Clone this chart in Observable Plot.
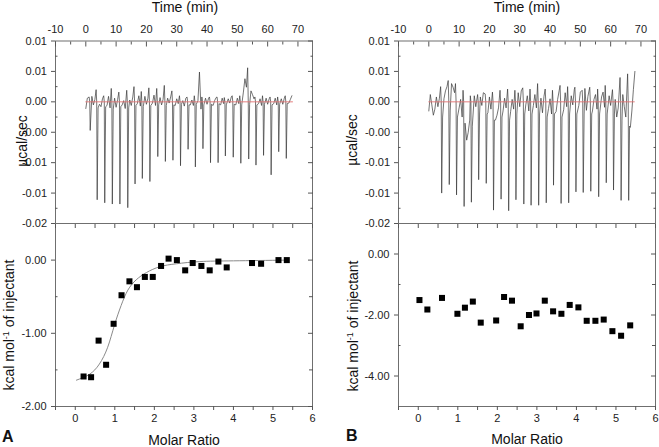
<!DOCTYPE html>
<html><head><meta charset="utf-8">
<script src="https://cdn.jsdelivr.net/npm/d3@7"></script>
<script src="https://cdn.jsdelivr.net/npm/@observablehq/plot@0.6"></script>
<style>
html,body{margin:0;padding:0;background:#fff;}
#wrap{position:relative;width:659px;height:447px;overflow:hidden;background:#fff;font-family:"Liberation Sans",Arial,sans-serif;}
#wrap > div{position:absolute;}
</style></head><body><div id="wrap"></div>
<script>
// ---------- axis ticks / labels ----------
const timeTicks = [-10, 0, 10, 20, 30, 40, 50, 60, 70];
const timeMinor = [-5, 5, 15, 25, 35, 45, 55, 65];
// power in units of 0.001 µcal/sec
const powerTicks = [10, 5, 0, -5, -10, -15, -20];
const powerLabels = ["0.01", "0.01", "0.00", "-0.00", "-0.01", "-0.01", "-0.02"];
const powerMinor = [7.5, 2.5, -2.5, -7.5, -12.5, -17.5];
const molarTicks = [0, 1, 2, 3, 4, 5, 6];
const molarMinor = [-0.5, 0.5, 1.5, 2.5, 3.5, 4.5, 5.5];
const heatTicksA = [0, -1, -2];
const heatLabelsA = ["0.00", "-1.00", "-2.00"];
const heatMinorA = [-0.5, -1.5];
const heatTicksB = [0, -2, -4];
const heatLabelsB = ["0.00", "-2.00", "-4.00"];
const heatMinorB = [-1, -3];

// ---------- panel A thermogram ----------
const injTimeA = [1.3, 3.6, 6.1, 8.6, 11.1, 13.7, 16.1, 18.5, 21.0, 23.6, 26.1, 28.6, 31.1, 33.6, 36.0, 38.5, 41.0, 43.5, 45.9, 48.5, 51.0, 53.6, 56.0, 58.5, 61.0, 63.5, 66.0];
const injPeakA = [-4.7, -16.1, -16.6, -16.8, -16.8, -17.4, -13.5, -12.6, -13.1, -9.0, -9.8, -9.6, -10.5, -7.8, -10.7, -7.7, -10.0, -10.0, -8.9, -9.1, -10.1, -9.4, -10.4, -8.8, -12.0, -8.2, -9.3];
const injUpA = [0.8, 2.0, 1.0, 2.2, 1.6, 1.9, 2.5, 1.7, 2.3, 2.2, 2.7, 1.8, 1.0, 0.8, 1.0, 0.8, 0.8, 0.8, 0.7, 1.0, 1.0, 5.6, 0.8, 1.0, 0.8, 0.8, 1.0];
const injRecA = [-1.5, -1.0, -0.8, -1.2, -0.8, -1.0, -0.6, -0.8, -0.6, -0.5, -0.6, -0.5, -0.4, -0.5, -0.4, -0.5, -0.4, -0.3, -0.5, -0.4, -0.5, -0.4, -0.5, -0.4, -0.5, -0.4, -0.3];
// baseline signal sampled every 0.5 min from t = 0
const noiseA = [
  -1.1, 0.6, -0.3, -1.4, 0.9, -0.5, 0.4, -0.9, 1.0, -0.4,
  -0.8, 0.5, -1.3, 0.2, -0.6, 0.9, -1.0, 0.3, -0.7, 0.6,
  -0.9, 0.4, -1.2, 0.7, -0.5, 0.2, -1.1, 0.5, -0.8, 0.3,
  -0.6, 0.8, -0.9, 0.4, -0.3, 1.0, -0.7, 0.2, -0.5, 0.9,
  -0.4, 0.6, -1.0, 0.8, -0.2, 1.1, -0.6, 0.5, -0.3, 0.7,
  -0.5, 0.4, 1.0, -0.4, 0.6, -0.2, 0.8, -0.5, 0.3, -0.6,
  0.5, -0.3, 0.7, -0.4, 0.2, -0.7, 0.6, -0.2, 0.4, -0.5,
  0.3, -0.6, 0.5, -0.9, 0.2, 4.9, -1.2, 0.3, -0.4, 0.6,
  -0.4, 0.6, -0.3, 0.5, -0.6, 0.2, 0.7, -0.4, 0.3, -0.5,
  0.6, -0.3, 0.4, -0.6, 0.5, -0.2, 0.8, -0.4, 0.3, -0.5,
  0.6, -0.3, 0.8, 1.2, 1.6, 3.8, 2.4, 1.5, 2.6, 1.8,
  1.2, 0.5, -0.3, 0.6, -0.3, 0.5, -0.6, 0.4, -0.2, 0.6,
  -0.4, 0.5, -0.7, 0.3, -0.3, 0.6, -0.5, 0.4, -0.2, 0.5,
  -0.4, 0.6, -0.3, 0.5, -0.2, 0.4, 1.0
];
const baselineSpanA = [0, 68.2];

// ---------- panel B thermogram ----------
const injTimeB = [4.1, 6.6, 9.0, 11.5, 13.9, 16.3, 18.8, 21.2, 23.7, 26.2, 28.6, 31.2, 33.6, 36.1, 38.6, 41.0, 43.5, 46.0, 48.4, 50.8, 53.3, 55.9, 58.4, 60.8, 63.3, 65.8];
const injPeakB = [-15.0, -13.6, -15.3, -17.2, -16.5, -12.8, -13.4, -17.8, -16.0, -17.9, -16.1, -16.8, -17.0, -17.0, -16.6, -13.7, -16.7, -16.6, -14.8, -14.9, -14.7, -15.6, -13.3, -14.5, -16.2, -16.2];
const injUpB = [2.5, 3.5, 3.0, 1.9, 1.0, 1.2, 1.3, 1.6, 1.9, 2.1, 1.9, 2.3, 2.1, 3.0, 2.1, 1.9, 2.7, 2.5, 2.4, 1.9, 2.4, 2.1, 2.7, 2.0, 4.0, 4.6];
const injRecB = [-2.5, -1.5, -2.5, -3.5, -4.0, -2.0, -2.0, -3.0, -2.5, -3.0, -2.0, -2.0, -2.0, -2.0, -2.5, -2.0, -2.5, -2.0, -2.0, -2.0, -2.0, -2.0, -2.0, -2.0, -3.0, -4.0];
const noiseB = [
  -1.5, 1.2, -0.5, -2.2, -1.2, 0.8, -0.8, 0.6, 0.2, -1.8,
  0.5, 1.8, 2.5, 3.5, 1.6, 3.0, 2.4, 1.5, 0.8, 1.0,
  -1.0, 0.4, -2.5, -4.0, -5.5, -6.3, -5.0, -3.0, 0.5, -1.5,
  1.0, -0.8, 1.2, -1.5, 0.8, -0.6, 1.5, -1.0, 0.6, -1.8,
  0.8, -1.2, -2.5, -1.5, -3.0, -2.2, -1.0, -2.8, -0.5, -1.5,
  0.6, -1.0, 1.2, -0.8, -1.6, 0.4, -1.2, 1.0, -0.6, 1.5,
  -0.8, 1.8, -1.2, 2.2, -0.5, 1.0, -1.5, 0.8, 2.5, -0.6,
  1.2, -1.0, 2.0, -1.4, 0.6, -1.8, 0.9, -0.7, 1.4, -1.1,
  0.5, -2.0, -0.8, 1.0, -1.6, 0.4, 1.8, -0.9, 0.7, -1.3,
  1.5, -0.8, 0.6, -1.8, 1.0, -0.5, 2.0, -1.2, 0.8, -0.6,
  1.6, -1.0, 0.5, 2.2, -1.4, 0.9, -0.7, 1.8, -1.5, 0.4,
  1.2, -1.2, 0.6, -2.0, 0.8, 1.6, -0.9, 0.5, -1.6, 1.0,
  -0.6, 1.4, -1.8, 0.4, -2.5, -1.0, 0.8, -1.5, 1.2, -0.8,
  -2.5, -3.5, -4.0, -4.2, -1.5, 2.0, 5.0
];
const baselineSpanB = [0, 67.8];
const noiseStep = 0.5;

// ---------- integrated heats ----------
const molarA = [0.21, 0.40, 0.59, 0.78, 0.97, 1.17, 1.37, 1.56, 1.76, 1.96, 2.17, 2.36, 2.57, 2.78, 2.97, 3.19, 3.40, 3.62, 3.83, 4.47, 4.70, 5.14, 5.35];
const heatA = [-1.59, -1.60, -1.10, -1.43, -0.87, -0.48, -0.29, -0.37, -0.23, -0.23, -0.08, 0.02, 0.00, -0.14, -0.04, -0.08, -0.14, -0.02, -0.10, -0.04, -0.05, 0.00, 0.00];
const fitMolarA = [0.03, 0.36, 0.61, 0.82, 0.99, 1.16, 1.33, 1.54, 1.80, 2.14, 2.56, 3.15, 4.0, 5.36];
const fitHeatA = [-1.64, -1.56, -1.42, -1.19, -0.89, -0.62, -0.41, -0.27, -0.17, -0.09, -0.05, -0.02, -0.01, 0.00];
const molarB = [0.03, 0.23, 0.60, 0.99, 1.18, 1.38, 1.58, 1.97, 2.17, 2.37, 2.59, 2.80, 2.99, 3.20, 3.41, 3.62, 3.83, 4.05, 4.26, 4.48, 4.69, 4.91, 5.13, 5.36];
const heatB = [-1.51, -1.82, -1.44, -1.96, -1.76, -1.56, -2.25, -2.18, -1.41, -1.53, -2.37, -2.00, -1.95, -1.53, -1.88, -1.96, -1.67, -1.75, -2.19, -2.19, -2.15, -2.53, -2.68, -2.34];

// ---------- build ----------
function buildTrace(noise, injT, injPeak, injUp, injRec) {
  const pts = [];
  noise.forEach((v, i) => {
    const t = i * noiseStep;
    if (!injT.some(ti => t > ti - 0.35 && t < ti + 0.7)) pts.push({t, v});
  });
  injT.forEach((ti, i) => {
    pts.push({t: ti - 0.2, v: injUp[i]}, {t: ti, v: 0}, {t: ti + 0.15, v: injPeak[i]}, {t: ti + 0.45, v: injRec[i]});
  });
  return pts.sort((a, b) => a.t - b.t);
}
const traceA = buildTrace(noiseA, injTimeA, injPeakA, injUpA, injRecA);
const traceB = buildTrace(noiseB, injTimeB, injPeakB, injUpB, injRecB);
const baseA = baselineSpanA.map(t => ({t, v: 0}));
const baseB = baselineSpanB.map(t => ({t, v: 0}));
const ptsA = molarA.map((x, i) => ({x, y: heatA[i]}));
const ptsB = molarB.map((x, i) => ({x, y: heatB[i]}));
const fitA = fitMolarA.map((x, i) => ({x, y: fitHeatA[i]}));

const FONT = "Liberation Sans, Arial, Helvetica, sans-serif";
const plotStyle = {background: "transparent", fontFamily: FONT, fontSize: "11px", color: "#222", overflow: "visible"};
const frameColor = "#6f6f6f";
const tickColor = "#555";

function ticksX(anchor, ticks, size, inward) {
  const d = inward ? (anchor === "top" ? size : -size) : 0;
  return Plot.axisX({anchor, ticks, tickSize: size, dy: d, fill: "none", stroke: tickColor, label: null});
}
function ticksY(anchor, ticks, size, inward) {
  const d = inward ? (anchor === "left" ? size : -size) : 0;
  return Plot.axisY({anchor, ticks, tickSize: size, dx: d, fill: "none", stroke: tickColor, label: null});
}
function labelsX(anchor, ticks, pad) {
  return Plot.axisX({anchor, ticks, tickSize: 0, tickPadding: pad, tickFormat: d => String(d), fill: "#222", label: null});
}
function labelsY(ticks, labels, pad) {
  const m = new Map(ticks.map((t, i) => [t, labels[i]]));
  return Plot.axisY({anchor: "left", ticks, tickSize: 0, tickPadding: pad, tickFormat: d => m.get(d), fill: "#222", label: null});
}

const timeDomain = [-10, 74.8];
const powerDomain = [-20, 10];
const molarDomain = [-0.5, 6];

function thermoPanel(trace, base, w, mL, mR) {
  return Plot.plot({
    width: w, height: 226, marginTop: 40.5, marginBottom: 3, marginLeft: mL, marginRight: mR,
    style: plotStyle,
    x: {domain: timeDomain, axis: null},
    y: {domain: powerDomain, axis: null},
    marks: [
      Plot.line(trace, {x: "t", y: "v", stroke: "#383838", strokeWidth: 0.7}),
      Plot.line(base, {x: "t", y: "v", stroke: "#e07070", strokeWidth: 0.9}),
      Plot.frame({stroke: frameColor}),
      ticksX("top", timeTicks, 5, true),
      ticksX("top", timeMinor, 3, true),
      labelsX("top", timeTicks, 8),
      ticksY("left", powerTicks, 4, false),
      ticksY("left", powerMinor, 2.5, true),
      ticksY("right", powerTicks, 5, true),
      ticksY("right", powerMinor, 2.5, true),
      labelsY(powerTicks, powerLabels, 8.5)
    ]
  });
}

function heatPanel(pts, fit, yDomain, yTicks, yLabels, yMinor, w, mL, mR) {
  return Plot.plot({
    width: w, height: 205, marginTop: 3, marginBottom: 19, marginLeft: mL, marginRight: mR,
    style: plotStyle,
    x: {domain: molarDomain, axis: null},
    y: {domain: yDomain, axis: null},
    marks: [
      fit ? Plot.line(fit, {x: "x", y: "y", stroke: "#8a8a8a", strokeWidth: 1, curve: "natural"}) : null,
      Plot.dot(pts, {x: "x", y: "y", symbol: "square", r: 3.4, fill: "#000", stroke: "none"}),
      Plot.frame({stroke: frameColor}),
      ticksX("top", molarTicks, 4, true),
      ticksX("top", molarMinor, 4, true),
      ticksX("bottom", molarTicks, 4, false),
      ticksX("bottom", molarMinor, 4, false),
      labelsX("bottom", molarTicks, 8),
      ticksY("left", yTicks, 4, false),
      ticksY("left", yMinor, 2.5, true),
      ticksY("right", yTicks, 5, true),
      ticksY("right", yMinor, 4, true),
      labelsY(yTicks, yLabels, 9)
    ]
  });
}

const wrap = document.getElementById("wrap");
function place(node, left, top, w) {
  const d = document.createElement("div");
  d.style.left = left + "px"; d.style.top = top + "px"; d.style.width = w + "px";
  d.appendChild(node); wrap.appendChild(d);
}
place(thermoPanel(traceA, baseA, 330, 55, 18), 0, 0, 330);
place(heatPanel(ptsA, fitA, [-2, 0.5], heatTicksA, heatLabelsA, heatMinorA, 330, 55, 18), 0, 220, 330);
place(thermoPanel(traceB, baseB, 329, 68, 4), 330, 0, 329);
place(heatPanel(ptsB, null, [-5, 1], heatTicksB, heatLabelsB, heatMinorB, 329, 68, 4), 330, 220, 329);

// ---------- titles ----------
const ov = d3.select(wrap).append("svg")
  .attr("width", 659).attr("height", 447)
  .style("position", "absolute").style("left", 0).style("top", 0)
  .attr("font-family", FONT).attr("fill", "#111");
const topTitle = "Time (min)", bottomTitle = "Molar Ratio", powerTitle = "µcal/sec";
[[185, 12], [527, 12]].forEach(([x, y]) => ov.append("text").attr("x", x).attr("y", y).attr("text-anchor", "middle").attr("font-size", 14).text(topTitle));
[[184, 445], [527, 444]].forEach(([x, y]) => ov.append("text").attr("x", x).attr("y", y).attr("text-anchor", "middle").attr("font-size", 14).text(bottomTitle));
[[27, 141], [357, 140]].forEach(([x, y]) => ov.append("text").attr("transform", `translate(${x},${y}) rotate(-90)`).attr("text-anchor", "middle").attr("font-size", 14).text(powerTitle));
[[14, 325], [358, 326]].forEach(([x, y]) => {
  const t = ov.append("text").attr("transform", `translate(${x},${y}) rotate(-90)`).attr("text-anchor", "middle").attr("font-size", 14);
  t.append("tspan").text("kcal mol");
  t.append("tspan").attr("font-size", 9).attr("dy", -5).text("-1");
  t.append("tspan").attr("dy", 5).text(" of injectant");
});
[["A", 2, 442], ["B", 346, 441]].forEach(([s, x, y]) => ov.append("text").attr("x", x).attr("y", y).attr("font-size", 16).attr("font-weight", "bold").text(s));
</script></body></html>
